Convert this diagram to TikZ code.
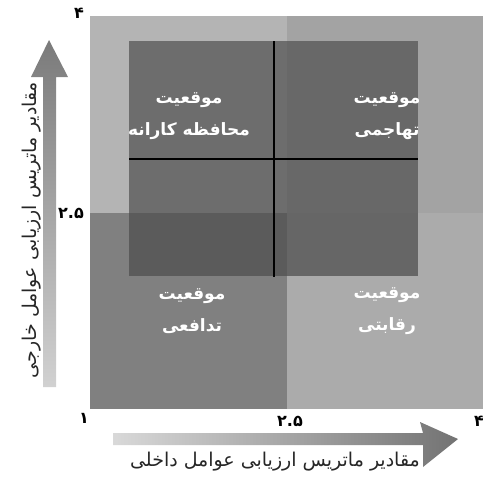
\documentclass[tikz,border=0pt]{standalone}
\usepackage{fontspec}
\newfontfamily\fa[Script=Arabic]{DejaVu Sans}
\TeXXeTstate=1
\definecolor{qTL}{HTML}{B4B4B4}
\definecolor{qTR}{HTML}{A3A3A3}
\definecolor{qBL}{HTML}{808080}
\definecolor{qBR}{HTML}{ABABAB}
\definecolor{iTL}{HTML}{6D6D6D}
\definecolor{iTR}{HTML}{686868}
\definecolor{iBR}{HTML}{666666}
\definecolor{iBL}{HTML}{5B5B5B}
\tikzset{
  quadlabel/.style={text=white,align=center,inner sep=0pt,font=\fa\bfseries\fontsize{17}{32}\selectfont},
  axislabel/.style={text=black!85,inner sep=0pt,font=\fa\fontsize{19}{22}\selectfont},
  ticklabel/.style={text=black,inner sep=0pt,font=\fa\bfseries\fontsize{16}{18}\selectfont},
  divline/.style={draw=black,line width=1.4pt}
}
\begin{document}
\begin{tikzpicture}[x=1pt,y=-1pt]
\useasboundingbox (0,0) rectangle (483,477);
% outer quadrants
\fill[qTL] (90,16) rectangle (287,213);
\fill[qTR] (287,16) rectangle (483,213);
\fill[qBL] (90,213) rectangle (287,409);
\fill[qBR] (287,213) rectangle (483,409);
% inner square
\fill[iTL] (129,41) rectangle (287,213);
\fill[iTR] (287,41) rectangle (418,213);
\fill[iBL] (129,213) rectangle (287,276);
\fill[iBR] (287,213) rectangle (418,276);
% dividing lines
\coordinate (vt) at (274,41);
\coordinate (vb) at (274,277);
\coordinate (hl) at (129,159);
\coordinate (hr) at (418,159);
\draw[divline] (vt) -- (vb);
\draw[divline] (hl) -- (hr);
% quadrant labels
\node[quadlabel] (conservative) at (189,116) {\beginR موقعیت\endR\\\beginR محافظه کارانه\endR};
\node[quadlabel] (aggressive) at (387,116) {\beginR موقعیت\endR\\\beginR تهاجمی\endR};
\node[quadlabel] (defensive) at (192,311) {\beginR موقعیت\endR\\\beginR تدافعی\endR};
\node[quadlabel] (competitive) at (387,311) {\beginR موقعیت\endR\\\beginR رقابتی\endR};
% vertical arrow
\shade[top color=black!52,bottom color=black!18]
  (43,387) -- (43,77) -- (31,77) -- (49,40) -- (68,77) -- (56,77) -- (56,387) -- cycle;
% horizontal arrow
\shade[left color=black!15,right color=black!55]
  (113,433) -- (423,433) -- (420,422) -- (458,439) -- (423,467) -- (423,445) -- (113,445) -- cycle;
% axis labels
\node[axislabel,rotate=90] (ylab) at (32,230) {\beginR مقادیر ماتریس ارزیابی عوامل خارجی\endR};
\node[axislabel] (xlab) at (275,462) {\beginR مقادیر ماتریس ارزیابی عوامل داخلی\endR};
% tick labels
\node[ticklabel] (y4) at (79,13) {۴};
\node[ticklabel] (y25) at (71,213) {۲.۵};
\node[ticklabel] (x1) at (84,418) {۱};
\node[ticklabel] (x25) at (290,421) {۲.۵};
\node[ticklabel] (x4) at (479,421) {۴};
\end{tikzpicture}
\end{document}
